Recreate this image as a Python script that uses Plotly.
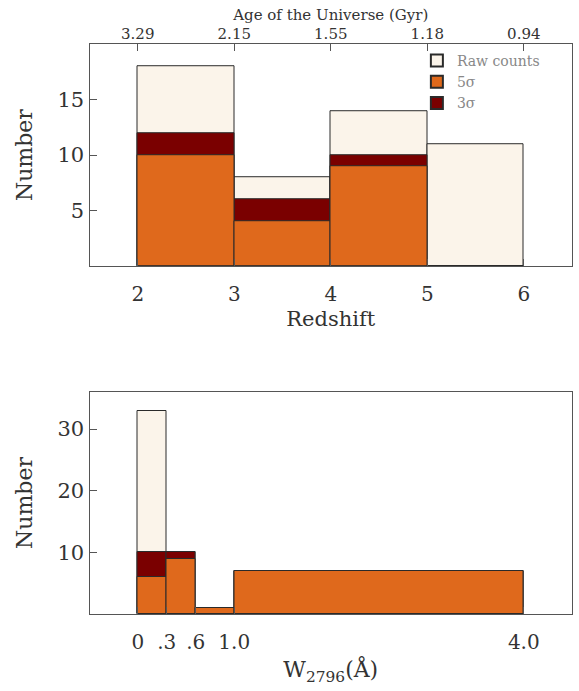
import plotly.graph_objects as go

# ---- data ----
z_edges = [2, 3, 4, 5, 6]
raw_z = [18, 8, 14, 11]
s3_z = [12, 6, 10, 0]
s5_z = [10, 4, 9, 0]
age_ticks = [2, 3, 4, 5, 6]
age_labels = ["3.29", "2.15", "1.55", "1.18", "0.94"]

w_edges = [0, 0.3, 0.6, 1.0, 4.0]
raw_w = [33, 10, 1, 7]
s3_w = [10, 10, 1, 7]
s5_w = [6, 9, 1, 7]
w_ticks = [0, 0.3, 0.6, 1.0, 4.0]
w_labels = ["0", ".3", ".6", "1.0", "4.0"]

C_RAW = "#FBF4EA"
C_5 = "#DF691C"
C_3 = "#7A0000"
EDGE = "#2a2a2a"
AX = "#555555"
FONT = "DejaVu Serif"
TXT = "#333333"


def centers(edges):
    return [(a + b) / 2 for a, b in zip(edges[:-1], edges[1:])]


def widths(edges):
    return [b - a for a, b in zip(edges[:-1], edges[1:])]


fig = go.Figure()

series = [("Raw counts", C_RAW, raw_z, raw_w, 1),
          ("3σ", C_3, s3_z, s3_w, 3),
          ("5σ", C_5, s5_z, s5_w, 2)]

for name, col, vz, vw, rank in series:
    fig.add_trace(go.Bar(x=centers(z_edges), y=vz, width=widths(z_edges),
                         marker=dict(color=col, line=dict(color=EDGE, width=1)),
                         name=name, legendrank=rank, xaxis="x", yaxis="y"))
    fig.add_trace(go.Bar(x=centers(w_edges), y=vw, width=widths(w_edges),
                         marker=dict(color=col, line=dict(color=EDGE, width=1)),
                         name=name, showlegend=False, xaxis="x2", yaxis="y2"))

# invisible trace for the top (age) axis
fig.add_trace(go.Scatter(x=age_ticks, y=[0] * len(age_ticks), xaxis="x3", yaxis="y",
                         mode="markers", marker=dict(size=1, opacity=0),
                         showlegend=False, hoverinfo="skip"))


def ax_common(size=20, standoff=0):
    return dict(showline=True, linecolor=AX, linewidth=1.3, mirror=True,
                ticks="inside", ticklen=7, tickcolor=AX, showgrid=False,
                zeroline=False, ticklabelstandoff=standoff,
                tickfont=dict(family=FONT, size=size, color=TXT))


def title(text, size=22, standoff=6):
    return dict(text=text, font=dict(size=size, family=FONT, color=TXT), standoff=standoff)


x_dom = [0.1546, 0.988]
fig.update_layout(
    width=579, height=691,
    margin=dict(l=0, r=0, t=0, b=0),
    paper_bgcolor="white", plot_bgcolor="white",
    barmode="overlay",
    bargap=0,
    font=dict(family=FONT, color=TXT),
    xaxis=dict(domain=x_dom, anchor="y", range=[1.5, 6.5], tickvals=[2, 3, 4, 5, 6],
               title=title("Redshift", 21, 6), **ax_common(20, 10)),
    xaxis3=dict(overlaying="x", anchor="y", side="top", range=[1.5, 6.5],
                tickvals=age_ticks, ticktext=age_labels,
                showline=False, ticks="inside", ticklen=7, tickcolor=AX,
                showgrid=False, zeroline=False, ticklabelstandoff=1,
                tickfont=dict(family=FONT, size=15, color=TXT),
                title=title("Age of the Universe (Gyr)", 15, 0)),
    yaxis=dict(domain=[0.615, 0.936], anchor="x", range=[0, 20], tickvals=[5, 10, 15],
               title=title("Number", 22, 18), **ax_common(21)),
    xaxis2=dict(domain=x_dom, anchor="y2", range=[-0.5, 4.5], tickvals=w_ticks, ticktext=w_labels,
                title=title("W<sub>2796</sub>(Å)", 22, 8), **ax_common(20, 10)),
    yaxis2=dict(domain=[0.1114, 0.4327], anchor="x2", range=[0, 36], tickvals=[10, 20, 30],
                title=title("Number", 22, 18), **ax_common(21)),
    legend=dict(x=0.72, y=0.935, xanchor="left", yanchor="top",
                bgcolor="rgba(0,0,0,0)", borderwidth=0,
                font=dict(family=FONT, size=14, color="#888"),
                itemsizing="constant", tracegroupgap=0),
)

fig.write_html("out.html")
